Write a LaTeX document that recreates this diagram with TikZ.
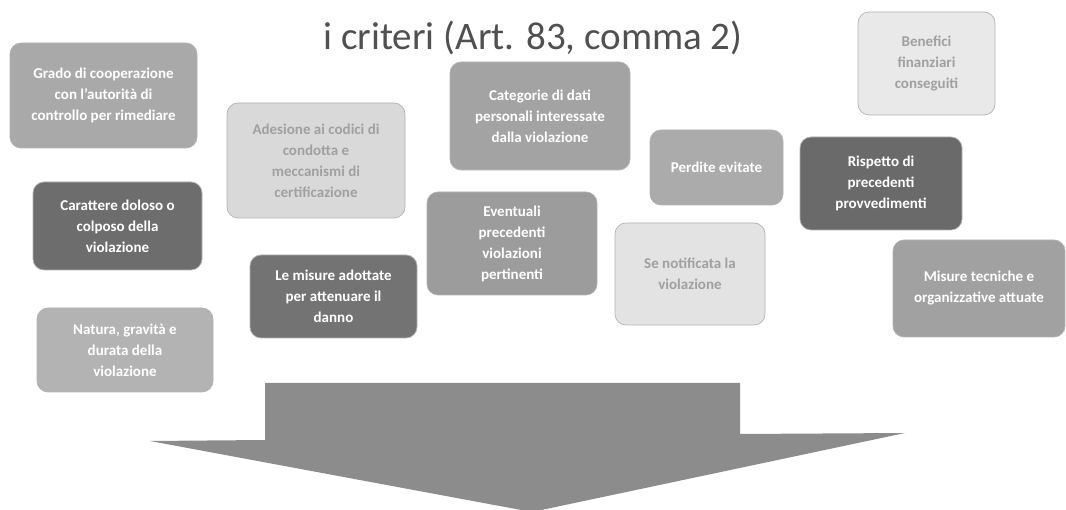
\documentclass[tikz,border=0pt]{standalone}
\usepackage{fontspec}
\setmainfont{Carlito}
\definecolor{bA}{HTML}{A9A9A9}
\definecolor{bB}{HTML}{6D6D6D}
\definecolor{bC}{HTML}{B3B3B3}
\definecolor{bD}{HTML}{D9D9D9}
\definecolor{bE}{HTML}{737373}
\definecolor{bF}{HTML}{A3A3A3}
\definecolor{bG}{HTML}{9C9C9C}
\definecolor{bH}{HTML}{ABABAB}
\definecolor{bI}{HTML}{E3E3E3}
\definecolor{bJ}{HTML}{E9E9E9}
\definecolor{bK}{HTML}{6A6A6A}
\definecolor{bL}{HTML}{A1A1A1}
\definecolor{txtlight}{HTML}{A0A0A0}
\definecolor{titlecol}{HTML}{505050}
\definecolor{arrowcol}{HTML}{8C8C8C}
\tikzset{
  crit/.style={rounded corners=11pt, draw=black!30, line width=0.7pt, align=center,
    font=\fontsize{15}{21}\selectfont\bfseries, inner sep=4pt},
  darktext/.style={crit, text=white},
  lighttext/.style={crit, text=txtlight},
}
\begin{document}
\begin{tikzpicture}[x=1pt,y=-1pt]
\useasboundingbox (0,0) rectangle (1066,510);
\fill[white] (0,0) rectangle (1066,510);

\node[font=\fontsize{39}{44}\selectfont, text=titlecol] (title) at (533,38) {i criteri (Art. 83, comma 2)};

\node[darktext, fill=bA, minimum width=187pt, minimum height=105pt] (n1) at (103.5,95.5)
  {Grado di cooperazione\\con l'autorità di\\controllo per rimediare};
\node[darktext, fill=bB, minimum width=169pt, minimum height=88pt] (n2) at (117.5,226)
  {Carattere doloso o\\colposo della\\violazione};
\node[darktext, fill=bC, minimum width=176pt, minimum height=84pt] (n3) at (125,350)
  {Natura, gravità e\\durata della\\violazione};
\node[lighttext, fill=bD, minimum width=178pt, minimum height=115pt] (n4) at (316,160.5)
  {Adesione ai codici di\\condotta e\\meccanismi di\\certificazione};
\node[darktext, fill=bE, minimum width=167pt, minimum height=83pt] (n5) at (333.5,296.5)
  {Le misure adottate\\per attenuare il\\danno};
\node[darktext, fill=bF, minimum width=180pt, minimum height=108pt] (n6) at (540,116)
  {Categorie di dati\\personali interessate\\dalla violazione};
\node[darktext, fill=bG, minimum width=170pt, minimum height=103pt] (n7) at (512,243.5)
  {Eventuali\\precedenti\\violazioni\\pertinenti};
\node[darktext, fill=bH, minimum width=133pt, minimum height=75pt] (n8) at (716.5,167.5)
  {Perdite evitate};
\node[lighttext, fill=bI, minimum width=150pt, minimum height=102pt] (n9) at (690,274)
  {Se notificata la\\violazione};
\node[lighttext, fill=bJ, minimum width=137pt, minimum height=103pt] (n10) at (926.5,63.5)
  {Benefici\\finanziari\\conseguiti};
\node[darktext, fill=bK, minimum width=162pt, minimum height=93pt] (n11) at (881,183.5)
  {Rispetto di\\precedenti\\provvedimenti};
\node[darktext, fill=bL, minimum width=172pt, minimum height=97pt] (n12) at (979,288.5)
  {Misure tecniche e\\organizzative attuate};

% big down arrow
\fill[arrowcol] (265,383) -- (740,383) -- (740,434) -- (905,433)
  -- (532,512) -- (150,441) -- (265,440) -- cycle;
\end{tikzpicture}
\end{document}
